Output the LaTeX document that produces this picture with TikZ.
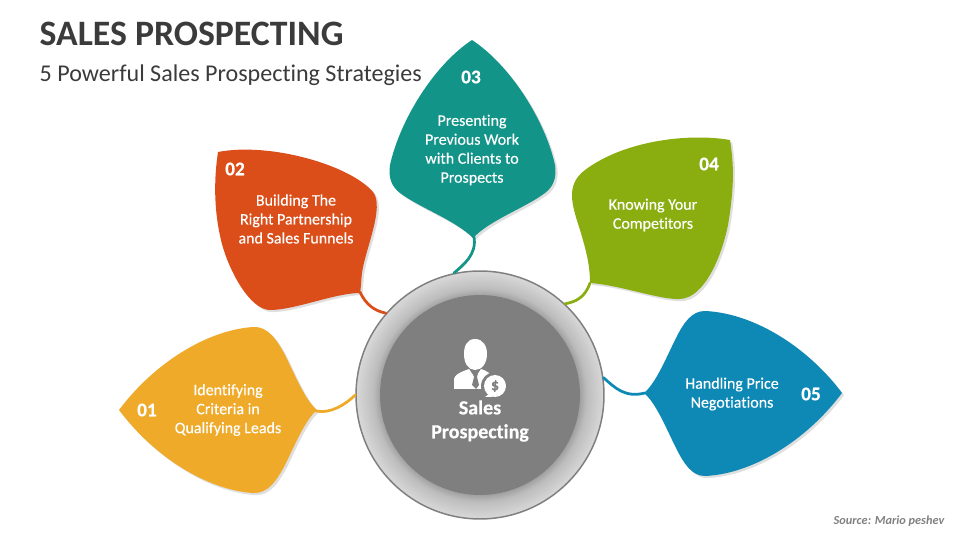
\documentclass[tikz,border=0pt]{standalone}
\usepackage{fontspec}
\setmainfont{Carlito}[Ligatures=NoCommon]
\newfontfamily\semifont{Carlito}[Ligatures=NoCommon, FakeBold=.3]
\usepackage{tikz}
\usetikzlibrary{shadows}
\tikzset{>=stealth}
\definecolor{leafA}{HTML}{EFAA2A}
\definecolor{leafB}{HTML}{DB4E1A}
\definecolor{leafC}{HTML}{129489}
\definecolor{leafD}{HTML}{8AAE10}
\definecolor{leafE}{HTML}{0E89B5}
\definecolor{hubgray}{HTML}{7F7F7F}
\definecolor{inkgray}{HTML}{3B3B3B}
\pgfdeclareradialshading{hubring}{\pgfpoint{0cm}{0cm}}{rgb(0bp)=(.62,.62,.62); rgb(20bp)=(.62,.62,.62); rgb(21.5bp)=(.74,.74,.74); rgb(25bp)=(.85,.85,.85); rgb(50bp)=(.85,.85,.85)}
\tikzset{
	leaf/.style={draw=none, drop shadow={shadow xshift=1.2pt, shadow yshift=-1.2pt, opacity=.25}},
	stem/.style={line width=.055cm, line cap=round},
	num/.style={text=white, font=\fontsize{11}{13}\selectfont\semifont\bfseries},
	body/.style={text=white, align=center, font=\fontsize{9.1}{10.8}\selectfont\semifont},
}

\begin{document}
\begin{tikzpicture}[x=.02cm, y=-.02cm, thick]
		\useasboundingbox (0,0) rectangle (960,540);
		\node[anchor=west, inner sep=0pt, text=inkgray, font=\fontsize{20.35}{24}\selectfont\bfseries] (title) at (39,34) {SALES PROSPECTING};
		\node[anchor=west, inner sep=0pt, text=inkgray, font=\fontsize{13.7}{15}\selectfont] (subtitle) at (39,75) {5 Powerful Sales Prospecting Strategies};
		\node[anchor=east, inner sep=0pt, text=gray, font=\fontsize{7}{8}\selectfont\bfseries\itshape] (source) at (945,521) {Source: Mario peshev};

		\fill[leaf, leafA] (119,410) .. controls (155,362) and (208,330) .. (253,327) .. controls (268,326) and (277,340) .. (285,355) .. controls (295,375) and (305,400) .. (317,410) .. controls (305,420) and (295,445) .. (285,465) .. controls (277,480) and (268,494) .. (253,493) .. controls (208,490) and (155,458) .. (119,410) -- cycle;
		\fill[leaf, leafB] (218,152) .. controls (270,142) and (350,165) .. (373,192) .. controls (385,207) and (365,250) .. (362,273) .. controls (361,282) and (361,288) .. (360,293) .. controls (335,293) and (295,310) .. (270,310) .. controls (250,310) and (228,270) .. (221,240) .. controls (215,215) and (213,185) .. (218,152) -- cycle;
		\fill[leaf, leafC] (472,40) .. controls (510,65) and (545,120) .. (555,165) .. controls (557,178) and (553,187) .. (545,193) .. controls (525,208) and (490,220) .. (473,238) .. controls (455,220) and (420,208) .. (400,193) .. controls (392,187) and (388,178) .. (390,165) .. controls (400,120) and (434,65) .. (472,40) -- cycle;
		\fill[leaf, leafD] (730,140) .. controls (690,133) and (625,140) .. (585,170) .. controls (565,185) and (572,205) .. (580,230) .. controls (586,250) and (590,265) .. (590,283) .. controls (620,285) and (660,300) .. (680,299) .. controls (705,298) and (722,255) .. (728,225) .. controls (733,195) and (735,170) .. (730,140) -- cycle;
		\fill[leaf, leafE] (842,393) .. controls (806,345) and (752,313) .. (705,311) .. controls (692,311) and (684,322) .. (676,338) .. controls (666,358) and (656,383) .. (644,393) .. controls (656,403) and (666,428) .. (676,448) .. controls (684,464) and (692,476) .. (705,476) .. controls (752,474) and (806,441) .. (842,393) -- cycle;

		\node[circle, draw=gray, line width=.03cm, minimum size=4.96cm, shading=hubring, inner sep=0pt] (hub) at (480,395) {};
		\node[circle, fill=hubgray, minimum size=4cm, inner sep=0pt] (core) at (480,395) {};

		\coordinate (neckA) at (316,411);
		\coordinate (neckB) at (360,292);
		\coordinate (neckC) at (474,237);
		\coordinate (neckD) at (590,283);
		\coordinate (neckE) at (645,393);
		\draw[stem, leafA] (neckA) .. controls (330,414) and (345,405) .. (hub.180);
		\draw[stem, leafB] (neckB) .. controls (366,305) and (375,311) .. (hub.139);
		\draw[stem, leafC] (neckC) .. controls (477,255) and (463,265) .. (hub.102);
		\draw[stem, leafD] (neckD) .. controls (585,298) and (575,302) .. (hub.47);
		\draw[stem, leafE] (neckE) .. controls (625,398) and (615,388) .. (hub.8);

		\node[num] (numA) at (147,410) {01};
		\node[num] (numB) at (235,169) {02};
		\node[num] (numC) at (471,77) {03};
		\node[num] (numD) at (709,164) {04};
		\node[num] (numE) at (811,394) {05};
		\node[body] (textA) at (228,410) {Identifying\\Criteria in\\Qualifying Leads};
		\node[body] (textB) at (296,219) {Building The\\Right Partnership\\and Sales Funnels};
		\node[body] (textC) at (472,150) {Presenting\\Previous Work\\with Clients to\\Prospects};
		\node[body] (textD) at (653,215) {Knowing Your\\Competitors};
		\node[body] (textE) at (732,394) {Handling Price\\Negotiations};

		\fill[white] (475,339) .. controls (483,339) and (487,346) .. (487,354) .. controls (487,363) and (482,370) .. (475,370) .. controls (468,370) and (464,363) .. (464,354) .. controls (464,346) and (467,339) .. (475,339) -- cycle;
		\fill[white] (454,389) -- (454,379) .. controls (455,375) and (458,373) .. (469,369) -- (475,378) -- (481,369) .. controls (487,371) and (492,374) .. (496,380) -- (490,389) -- cycle;
		\fill[hubgray] (473,373) -- (478,373) -- (477,377) -- (479,385) -- (476,389) -- (472,385) -- (474,377) -- cycle;
		\fill[hubgray] (495,386) circle (14);
		\fill[white] (495,386) circle (11);
		\fill[white] (489,394) -- (485,397) -- (493,397) -- cycle;
		\node[text=hubgray, font=\fontsize{9}{9}\selectfont\semifont\bfseries, inner sep=0pt] (dollar) at (495,386) {\$};
		\node[text=white, align=center, font=\fontsize{11.4}{13.6}\selectfont\semifont\bfseries] (hubtext) at (480,421) {Sales\\Prospecting};
\end{tikzpicture}
\end{document}
